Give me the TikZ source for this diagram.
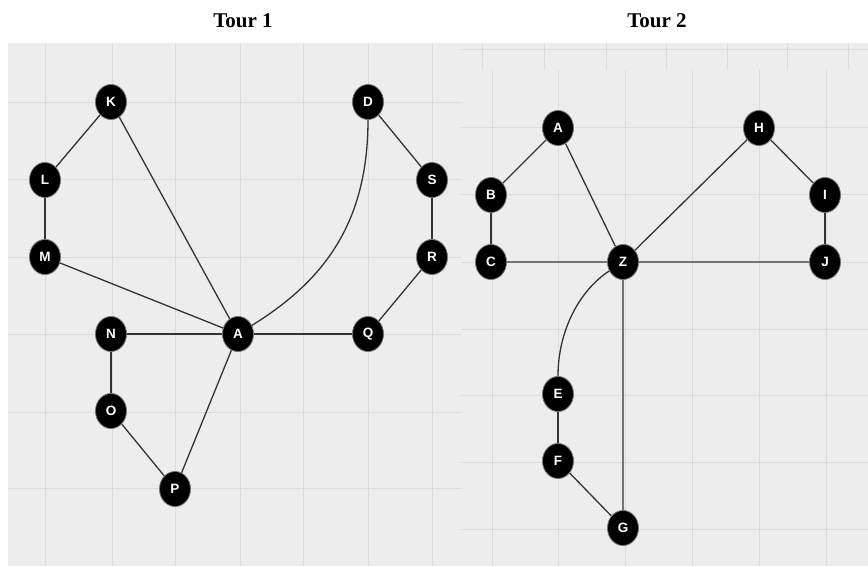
\documentclass[tikz,border=0pt]{standalone}
\usepackage{fontspec}
\setmainfont{Liberation Serif}
\setsansfont{Liberation Sans}
\usetikzlibrary{shapes.geometric}
\definecolor{panelbg}{HTML}{EDEDED}
\definecolor{gridc}{HTML}{DCDCDC}
\definecolor{edgec}{HTML}{333333}
\begin{document}
\begin{tikzpicture}[x=1pt,y=-1pt,
  vtx/.style={ellipse, fill=black, draw=black!55, line width=0.8pt,
    minimum width=31pt, minimum height=35pt, inner sep=0pt, text=white,
    font=\sffamily\bfseries\fontsize{13.5}{13.5}\selectfont},
  edg/.style={draw=edgec, line width=1.3pt},
  edgb/.style={draw=black!55, line width=1.9pt},
  gridl/.style={draw=gridc, line width=1pt},
  ttl/.style={font=\bfseries\fontsize{21}{21}\selectfont, anchor=base}]
\useasboundingbox (0,0) rectangle (868,567);
\fill[white] (0,0) rectangle (868,567);
% panels
\fill[panelbg] (8,43) rectangle (461,566);
\fill[panelbg] (461,43) rectangle (868,566);
% left grid
\foreach \x in {45,112,175,240,303,368,432} \draw[gridl] (\x,43) -- (\x,566);
\foreach \y in {103,180,257,334,412,488} \draw[gridl] (8,\y) -- (461,\y);
% right panel top strip grid
\foreach \x in {482,544,606,666,727,787,848} \draw[gridl] (\x,43) -- (\x,70);
\draw[gridl] (461,50) -- (868,50);
% right main grid
\foreach \x in {492,558,625,692,759,826} \draw[gridl] (\x,70) -- (\x,566);
\foreach \y in {128,195,262,329,395,462,529} \draw[gridl] (461,\y) -- (868,\y);
% titles
\node[ttl] (t1) at (243,28) {Tour 1};
\node[ttl] (t2) at (657,28) {Tour 2};
% Tour 1 nodes
\node[vtx] (K) at (111,102) {K};
\node[vtx] (D) at (368,102) {D};
\node[vtx] (L) at (45,180) {L};
\node[vtx] (S) at (432,180) {S};
\node[vtx] (M) at (45,257) {M};
\node[vtx] (R) at (432,257) {R};
\node[vtx] (N) at (111,334) {N};
\node[vtx] (A1) at (238,334) {A};
\node[vtx] (Q) at (368,334) {Q};
\node[vtx] (O) at (111,411) {O};
\node[vtx] (P) at (175,489) {P};
% Tour 2 nodes
\node[vtx] (A2) at (558,128) {A};
\node[vtx] (H) at (759,128) {H};
\node[vtx] (B) at (491,195) {B};
\node[vtx] (I) at (825,195) {I};
\node[vtx] (C) at (491,262) {C};
\node[vtx] (Z) at (623,262) {Z};
\node[vtx] (J) at (825,262) {J};
\node[vtx] (E) at (558,394) {E};
\node[vtx] (F) at (558,461) {F};
\node[vtx] (G) at (623,528) {G};
% Tour 1 edges
\draw[edg] (K) -- (L);
\draw[edg] (K) -- (A1);
\draw[edg] (L) -- (M);
\draw[edg] (M) -- (A1);
\draw[edg] (D) -- (S);
\draw[edg] (S) -- (R);
\draw[edg] (R) -- (Q);
\draw[edg, line width=1.7pt] (Q) -- (A1);
\draw[edg] (N) -- (A1);
\draw[edg] (N) -- (O);
\draw[edg] (O) -- (P);
\draw[edg] (P) -- (A1);
\draw[edg] (D) .. controls (368,225) and (322,282) .. (A1);
% Tour 2 edges
\draw[edg] (A2) -- (B);
\draw[edg] (A2) -- (Z);
\draw[edg] (B) -- (C);
\draw[edgb] (C) -- (Z);
\draw[edg] (H) -- (Z);
\draw[edg] (H) -- (I);
\draw[edg] (I) -- (J);
\draw[edgb] (Z) -- (J);
\draw[edgb] (Z) -- (G);
\draw[edg] (E) -- (F);
\draw[edg] (F) -- (G);
\draw[edg] (Z) .. controls (580,290) and (558,330) .. (E);
\end{tikzpicture}
\end{document}
